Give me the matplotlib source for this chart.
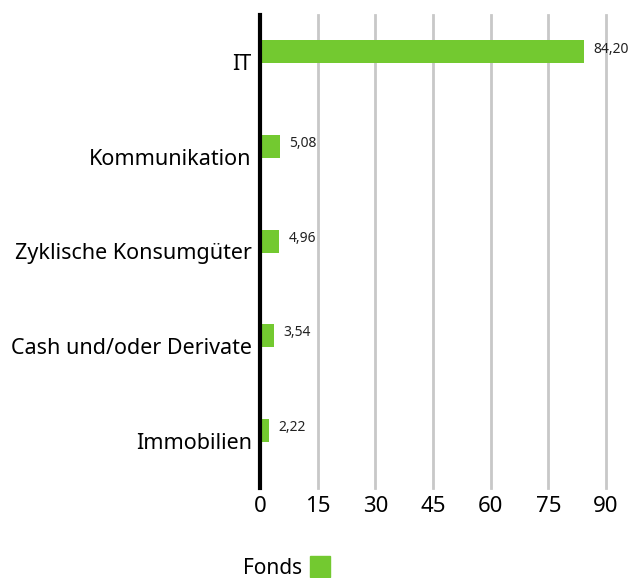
import matplotlib
matplotlib.use("Agg")
import matplotlib.pyplot as plt
import numpy as np

categories = ["IT", "Kommunikation", "Zyklische Konsumgüter", "Cash und/oder Derivate", "Immobilien"]
values = [84.20, 5.08, 4.96, 3.54, 2.22]
value_labels = ["84,20", "5,08", "4,96", "3,54", "2,22"]
xticks = [0, 15, 30, 45, 60, 75, 90]
series_name = "Fonds"

color = "#73C930"
plt.rcParams['font.family'] = ['Noto Sans', 'DejaVu Sans']

fig = plt.figure(figsize=(6.33, 5.78), dpi=100)
ax = fig.add_axes([260/633, 1-488/578, 346/633, 473/578])

y = np.arange(len(categories))
offset = 0.11
ax.barh(y - offset, values, height=0.245, color=color, zorder=3)
for yi, v, lab in zip(y, values, value_labels):
    ax.text(v + 2.5, yi - offset - 0.03, lab, fontsize=10, va='center', ha='left', color='#222222')

ax.set_xlim(0, 90)
ax.set_ylim(len(categories) - 0.5, -0.5)
ax.set_xticks(xticks)
ax.set_xticklabels([str(t) for t in xticks], fontsize=16)
ax.set_yticks(y)
ax.set_yticklabels(categories, fontsize=15.5)
ax.tick_params(axis='y', length=0, pad=6)
ax.tick_params(axis='x', length=0, pad=6)
ax.grid(axis='x', color='#c8c8c8', linewidth=2, zorder=0)
for gl in ax.get_xgridlines():
    gl.set_clip_on(False)
for s in ['top', 'right', 'bottom']:
    ax.spines[s].set_visible(False)
ax.spines['left'].set_linewidth(3)
ax.spines['left'].set_color('black')
ax.spines['left'].set_zorder(4)

fig.text(302/633, 1-568/578, series_name, fontsize=15, ha='right', va='center')
fig.patches.append(plt.Rectangle((310/633, 1-577/578), 20/633, 21/578, transform=fig.transFigure, color=color))

fig.savefig("out.png", dpi=100)
